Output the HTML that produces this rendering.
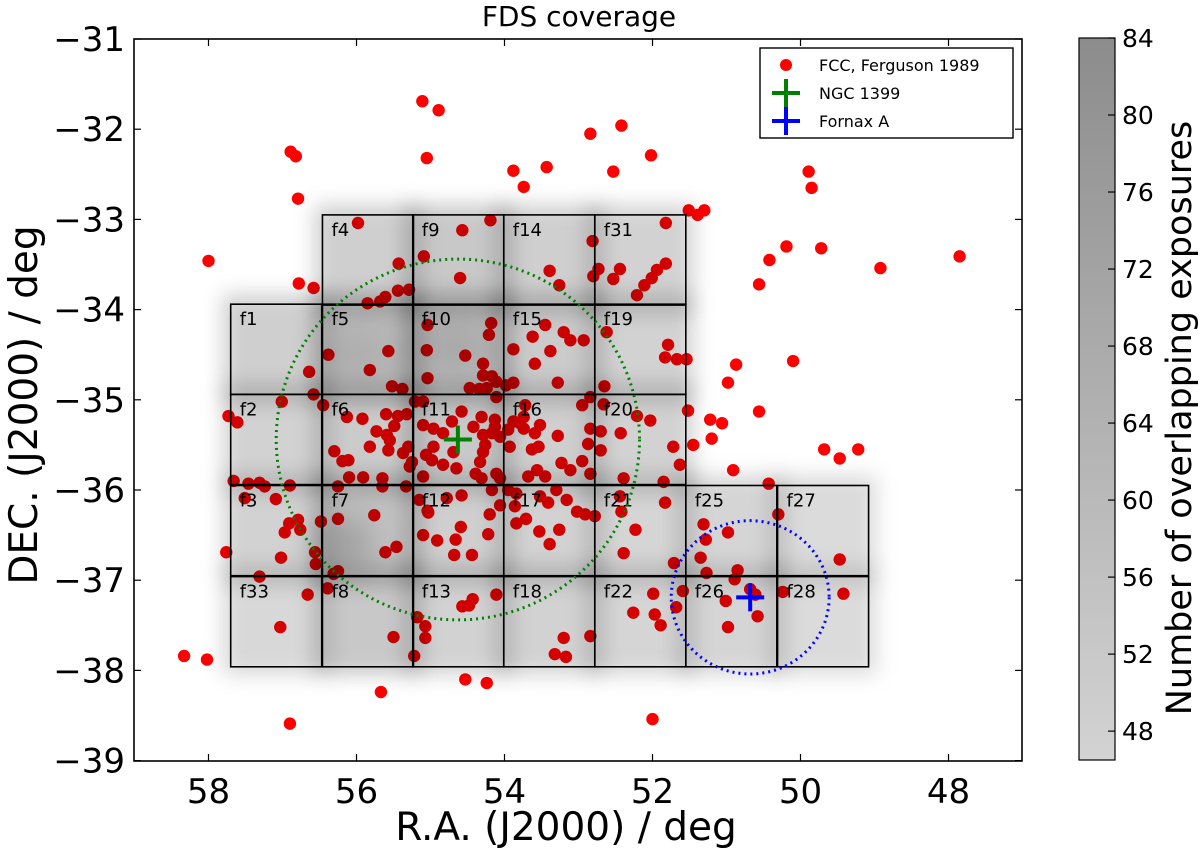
<!DOCTYPE html>
<html><head><meta charset="utf-8">
<style>
html,body{margin:0;padding:0;background:#fff;}
svg{display:block;font-family:"DejaVu Sans","Liberation Sans",sans-serif;}
</style></head>
<body>
<svg id="chart" width="1200" height="851" viewBox="0 0 1200 851" xmlns="http://www.w3.org/2000/svg">
<defs>
<filter id="blur" x="-30%" y="-30%" width="160%" height="160%"><feGaussianBlur stdDeviation="10"/></filter>
<filter id="blur2" x="-50%" y="-50%" width="200%" height="200%"><feGaussianBlur stdDeviation="16"/></filter>
<linearGradient id="cbgrad" x1="0" y1="1" x2="0" y2="0">
<stop offset="0" stop-color="#d3d3d3"/><stop offset="1" stop-color="#8c8c8c"/>
</linearGradient>
<clipPath id="plotclip"><rect x="134" y="39" width="888" height="722"/></clipPath>
</defs>
<text x="579" y="26" font-size="28" text-anchor="middle">FDS coverage</text>
<g id="dots" clip-path="url(#plotclip)"></g>
<g id="cover" clip-path="url(#plotclip)"></g>
<g id="fields"></g>
<g id="circles" clip-path="url(#plotclip)"></g>
<g id="axes"></g>
<g id="legend"></g>
<g id="cbar"></g>
</svg>
<script>
// ---- data ----
const raTicks = [58,56,54,52,50,48];
const decTicks = [-31,-32,-33,-34,-35,-36,-37,-38,-39];
const cbTicks = [48,52,56,60,64,68,72,76,80,84];
const fccRA = [55.11,56.89,56.82,56.79,55.05,55.98,58.0,55.43,55.09,56.78,54.89,53.88,53.74,53.43,52.84,52.42,52.53,52.02,51.51,51.39,51.30,54.57,54.19,54.60,52.81,51.82,51.82,51.94,52.44,52.73,52.80,53.39,52.53,52.01,49.89,49.85,50.19,50.42,49.72,48.92,47.85,50.56,50.87,50.98,50.10,50.56,51.22,51.06,51.20,49.68,49.47,49.22,50.91,50.43,50.30,49.47,49.42,50.24,50.98,50.85,50.89,50.68,50.61,50.58,51.01,50.98,51.31,51.28,51.35,51.27,51.59,51.68,51.71,52.23,52.39,51.99,52.26,51.97,51.89,52.00,52.84,53.20,53.32,53.17,54.11,54.43,54.57,54.48,55.07,55.07,54.53,54.24,54.59,55.10,54.91,54.66,54.68,54.44,54.22,54.20,55.03,53.84,53.71,53.53,53.39,53.26,53.02,52.91,52.78,52.42,57.76,58.33,58.02,57.31,57.03,56.90,55.67,55.50,55.22,55.18,57.02,56.66,56.39,56.25,56.31,56.55,56.56,56.97,56.91,56.79,56.76,56.48,56.25,55.76,55.61,55.46,56.58,55.85,55.68,55.61,55.44,55.29,56.38,56.64,55.57,55.82,55.52,55.38,55.04,55.05,55.04,56.58,56.45,57.01,57.73,57.61,56.13,55.92,55.60,55.44,55.32,55.21,55.10,55.73,55.49,55.59,55.55,55.82,55.57,56.30,56.19,56.11,55.37,55.30,55.25,55.28,55.10,55.06,55.10,56.10,55.91,55.65,55.65,55.33,56.25,57.66,57.46,57.31,57.24,56.90,57.51,57.09,55.15,55.04,53.26,52.21,52.11,54.18,54.21,54.53,54.29,54.29,54.17,54.11,54.47,54.34,54.24,54.11,53.98,53.88,53.62,53.45,53.20,53.11,52.93,53.88,53.38,53.59,53.28,52.62,52.65,51.79,51.83,51.67,51.54,52.84,52.95,52.66,52.21,52.03,51.52,51.45,51.72,51.63,51.85,51.83,52.43,52.70,52.70,52.39,52.44,52.84,52.87,52.95,52.84,53.28,53.52,53.59,53.54,53.63,53.93,53.79,53.88,53.74,53.72,53.74,53.95,54.06,54.13,54.13,54.17,54.29,54.42,54.31,54.58,54.71,54.83,54.96,54.96,54.98,54.83,54.65,54.69,54.29,54.26,54.33,54.39,54.31,54.11,54.06,54.17,53.95,53.84,53.68,53.56,53.45,53.23,53.11,53.30,53.52,53.41,53.16,54.58,54.78,53.86,54.06];
const fccDec = [-31.69,-32.25,-32.30,-32.77,-32.32,-33.04,-33.46,-33.49,-33.41,-33.71,-31.79,-32.46,-32.64,-32.42,-32.05,-31.96,-32.47,-32.29,-32.90,-32.95,-32.90,-33.12,-33.01,-33.65,-33.24,-33.04,-33.49,-33.56,-33.55,-33.55,-33.63,-33.57,-33.66,-33.65,-32.47,-32.65,-33.30,-33.45,-33.32,-33.54,-33.41,-33.72,-34.61,-34.81,-34.57,-35.13,-35.22,-35.26,-35.43,-35.55,-35.65,-35.55,-35.78,-35.93,-36.27,-36.77,-37.15,-37.13,-36.47,-36.89,-36.99,-37.10,-37.16,-37.40,-37.23,-37.52,-36.38,-36.55,-36.75,-36.92,-37.12,-37.30,-36.81,-36.44,-36.70,-37.15,-37.36,-37.38,-37.50,-38.54,-37.62,-37.64,-37.82,-37.85,-37.16,-37.21,-37.29,-37.28,-37.51,-37.64,-38.10,-38.14,-36.41,-36.50,-36.56,-36.55,-36.72,-36.72,-36.49,-36.27,-36.25,-36.37,-36.32,-36.46,-36.60,-36.44,-36.24,-36.27,-36.29,-36.24,-36.69,-37.84,-37.88,-36.96,-37.52,-38.59,-38.24,-37.63,-37.84,-37.41,-36.75,-37.16,-37.09,-36.90,-36.93,-36.82,-36.69,-36.47,-36.37,-36.33,-36.44,-36.35,-36.32,-36.28,-36.69,-36.63,-33.76,-33.93,-33.91,-33.86,-33.79,-33.78,-34.50,-34.69,-34.46,-34.67,-34.85,-34.88,-34.17,-34.45,-34.76,-34.94,-35.06,-35.02,-35.18,-35.25,-35.19,-35.21,-35.16,-35.18,-35.16,-35.02,-35.02,-35.35,-35.29,-35.39,-35.45,-35.52,-35.56,-35.57,-35.68,-35.67,-35.59,-35.52,-35.69,-35.74,-35.28,-35.61,-35.85,-35.86,-35.86,-35.87,-35.96,-35.96,-35.96,-35.90,-35.93,-35.92,-35.96,-35.95,-36.09,-36.10,-36.11,-36.23,-33.73,-33.84,-33.73,-34.15,-34.28,-34.51,-34.60,-34.73,-34.74,-34.80,-34.87,-34.88,-34.87,-34.97,-34.84,-34.81,-34.30,-34.17,-34.25,-34.34,-34.34,-34.44,-34.46,-34.60,-34.81,-34.25,-34.85,-34.39,-34.53,-34.55,-34.55,-34.97,-35.06,-35.05,-35.18,-35.23,-35.12,-35.50,-35.52,-35.72,-35.91,-36.14,-35.37,-35.35,-35.56,-35.87,-36.07,-35.32,-35.49,-35.68,-35.82,-35.40,-35.28,-35.37,-35.52,-35.55,-35.52,-35.26,-35.24,-35.19,-35.06,-35.32,-35.33,-35.41,-35.22,-35.30,-35.37,-35.39,-35.30,-35.19,-35.13,-35.24,-35.37,-35.32,-35.52,-35.67,-35.72,-35.76,-35.58,-35.58,-35.50,-35.69,-35.82,-35.87,-35.82,-35.87,-36.00,-36.00,-36.04,-35.85,-35.78,-35.85,-35.70,-35.78,-36.00,-36.07,-36.14,-36.11,-36.06,-36.09,-36.18,-36.17];
// fields: name, RA max (east edge), Dec top, mean exposure count
const fieldNames = ["f4","f9","f14","f31","f1","f5","f10","f15","f19","f2","f6","f11","f16","f20","f3","f7","f12","f17","f21","f25","f27","f33","f8","f13","f18","f22","f26","f28"];
const fieldRA = [56.46,55.24,54.01,52.78,57.70,56.46,55.24,54.01,52.78,57.70,56.46,55.24,54.01,52.78,57.70,56.46,55.24,54.01,52.78,51.55,50.31,57.70,56.46,55.24,54.01,52.78,51.55,50.31];
const fieldDec = [-32.95,-32.95,-32.95,-32.95,-33.94,-33.94,-33.94,-33.94,-33.94,-34.94,-34.94,-34.94,-34.94,-34.94,-35.95,-35.95,-35.95,-35.95,-35.95,-35.95,-35.95,-36.96,-36.96,-36.96,-36.96,-36.96,-36.96,-36.96];
const fieldExp = [57,59,57,56,57,63,63,58,56,56,58,59,57,56,56,61,57,56,55,55,53,54,59,56,56,55,55,53];
const fieldW = 1.23, fieldH = 1.0;
const ngc1399 = [54.63,-35.44], fornaxA = [50.68,-37.19];
const ngcRadius = 2.0, fornaxRadius = 0.85;

// ---- scales ----
const X0=134.5, XS=74.0, Y0=39, YS=90.2;
const x = ra => X0 + (59 - ra)*XS;
const y = dec => Y0 + (-31 - dec)*YS;
const CB0=46.5, CB1=84, CBT=38, CBB=760;
const cy = v => CBB - (v-CB0)/(CB1-CB0)*(CBB-CBT);
const NS="http://www.w3.org/2000/svg";
function mk(tag, attrs, parent){const e=document.createElementNS(NS,tag);for(const k in attrs)e.setAttribute(k,attrs[k]);parent.appendChild(e);return e;}

// dots
const gd=document.getElementById('dots');
for(let i=0;i<fccRA.length;i++){
  const c=mk('circle',{cx:x(fccRA[i]),cy:y(fccDec[i]),r:6.2,fill:'#ff0000'},gd);
  
  
}
// coverage (dark overlay, blurred)
const gc=document.getElementById('cover');
const gblur=mk('g',{filter:'url(#blur)'},gc);
for(let i=0;i<fieldNames.length;i++){
  const op=0.13+(fieldExp[i]-52)*0.012;
  const r=mk('rect',{x:x(fieldRA[i])-8,y:y(fieldDec[i])-10,width:fieldW*XS+16,height:fieldH*YS+18,fill:'#000','fill-opacity':op.toFixed(3)},gblur);
  
  
}
const gb2=mk('g',{filter:'url(#blur2)'},gc);
mk('ellipse',{cx:x(56.2),cy:y(-36.6),rx:30,ry:30,fill:'#000','fill-opacity':0.18},gb2);
mk('ellipse',{cx:x(54.7),cy:y(-34.4),rx:40,ry:30,fill:'#000','fill-opacity':0.1},gb2);
mk('ellipse',{cx:x(56.0),cy:y(-34.5),rx:40,ry:30,fill:'#000','fill-opacity':0.07},gb2);
// field grid
const gf=document.getElementById('fields');
for(let i=0;i<fieldNames.length;i++){
  const r=mk('rect',{x:x(fieldRA[i]),y:y(fieldDec[i]),width:fieldW*XS,height:fieldH*YS,fill:'none',stroke:'#000','stroke-width':1.6},gf);
  
  
  const t=mk('text',{x:x(fieldRA[i])+9,y:y(fieldDec[i])+21,'font-size':18,fill:'#000'},gf);
  t.textContent=fieldNames[i];
  
  
}
// circles
const gcir=document.getElementById('circles');
function ring(c,rad,color,name){
  const rx=rad/Math.cos(c[1]*Math.PI/180)*XS, ry=rad*YS;
  const e=mk('ellipse',{cx:x(c[0]),cy:y(c[1]),rx:rx,ry:ry,fill:'none',stroke:color,'stroke-width':3,'stroke-dasharray':'2 4'},gcir);
  
  
}
ring(ngc1399,ngcRadius,'#008000','ngc1399-circle');
ring(fornaxA,fornaxRadius,'#0000ff','fornax-a-circle');
function cross(c,color,name,parent,cx0,cy0){
  const px=cx0!==undefined?cx0:x(c[0]), py=cy0!==undefined?cy0:y(c[1]);
  const g=mk('g',{stroke:color,'stroke-width':4},parent);
  
  
  mk('line',{x1:px-14,y1:py,x2:px+14,y2:py},g);
  mk('line',{x1:px,y1:py-14,x2:px,y2:py+14},g);
}
cross(ngc1399,'#008000','ngc1399-marker',gcir);
cross(fornaxA,'#0000ff','fornax-a-marker',gcir);

// axes
const ga=document.getElementById('axes');
const frame=mk('rect',{x:134,y:39,width:888,height:722,fill:'none',stroke:'#000','stroke-width':1.6},ga);


raTicks.forEach(v=>{
  const px=x(v);
  mk('line',{x1:px,y1:761,x2:px,y2:754,stroke:'#000','stroke-width':1.2},ga);
  mk('line',{x1:px,y1:39,x2:px,y2:46,stroke:'#000','stroke-width':1.2},ga);
  const t=mk('text',{x:px,y:803,'font-size':34,'text-anchor':'middle'},ga);
  t.textContent=String(v);
  
  
});
decTicks.forEach(v=>{
  const py=y(v);
  mk('line',{x1:134,y1:py,x2:141,y2:py,stroke:'#000','stroke-width':1.2},ga);
  mk('line',{x1:1022,y1:py,x2:1015,y2:py,stroke:'#000','stroke-width':1.2},ga);
  const t=mk('text',{x:125,y:py+12,'font-size':34,'text-anchor':'end'},ga);
  t.textContent='\u2212'+String(-v);
  
  
});
const xl=mk('text',{x:566,y:840,'font-size':39,'text-anchor':'middle'},ga);
xl.textContent='R.A. (J2000) / deg';


const yl=mk('text',{x:0,y:0,'font-size':39,'text-anchor':'middle',transform:'translate(37,405) rotate(-90)'},ga);
yl.textContent='DEC. (J2000) / deg';



// legend
const gl=document.getElementById('legend');
mk('rect',{x:760,y:48,width:253,height:90,fill:'#fff',stroke:'#000','stroke-width':1.4},gl);
mk('circle',{cx:786,cy:65,r:6,fill:'#ff0000'},gl);
cross(null,'#008000','legend-ngc1399-marker',gl,786,93);
cross(null,'#0000ff','legend-fornax-a-marker',gl,786,121);
[['FCC, Ferguson 1989',65,'legend-entry-fcc'],['NGC 1399',93,'legend-entry-ngc1399'],['Fornax A',121,'legend-entry-fornax-a']].forEach(e=>{
  const t=mk('text',{x:819,y:e[1]+6,'font-size':16},gl);
  t.textContent=e[0];
  
  
});

// colorbar
const gcb=document.getElementById('cbar');
mk('rect',{x:1079,y:CBT,width:36,height:CBB-CBT,fill:'url(#cbgrad)',stroke:'#000','stroke-width':1.2},gcb);
cbTicks.forEach(v=>{
  const py=cy(v);
  mk('line',{x1:1108,y1:py,x2:1115,y2:py,stroke:'#000','stroke-width':1.2},gcb);
  const t=mk('text',{x:1122,y:py+9,'font-size':25},gcb);
  t.textContent=String(v);
  
  
});
const cl=mk('text',{x:0,y:0,'font-size':35,'text-anchor':'middle',transform:'translate(1191,418) rotate(-90)'},gcb);
cl.textContent='Number of overlapping exposures';


</script>
</body></html>
